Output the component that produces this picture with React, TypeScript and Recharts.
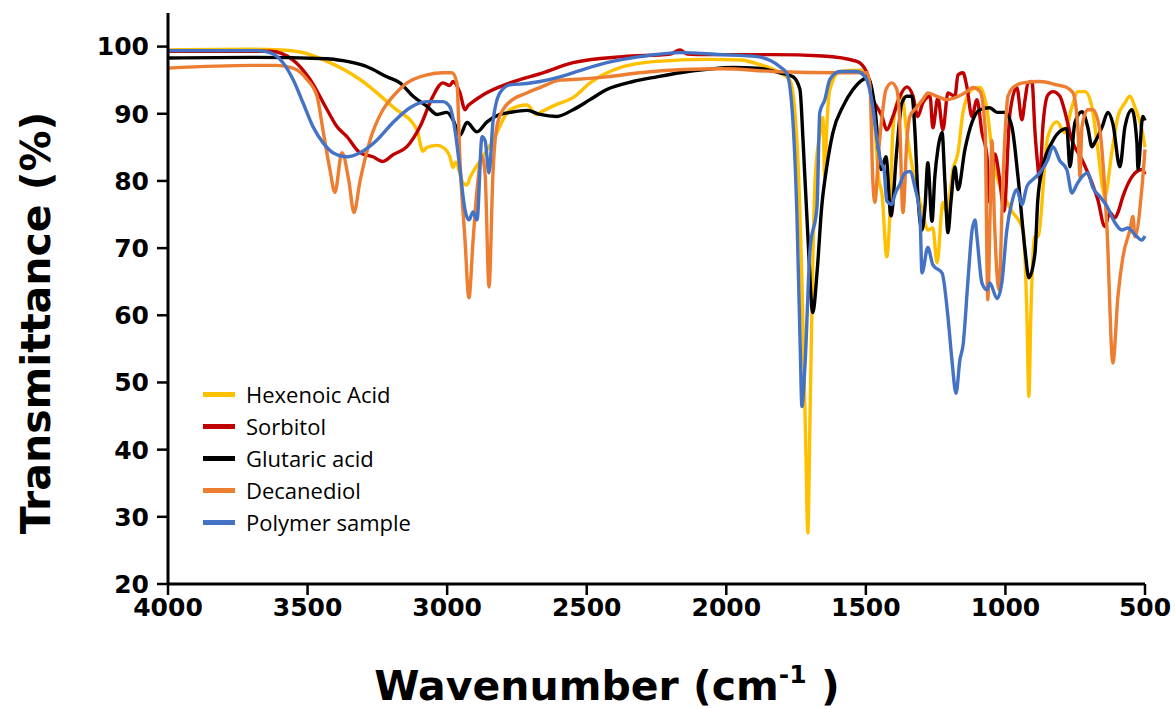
import { Legend, Line, LineChart, XAxis, YAxis } from "recharts";

// wavenumber (cm-1) / transmittance (%)
const hexWn = [
  4000, 3700, 3600, 3527, 3430, 3312, 3194, 3108, 3087, 3072,
  3036, 3015, 2990, 2979, 2970, 2943, 2929, 2918, 2882, 2836,
  2775, 2714, 2680, 2667, 2607, 2549, 2488, 2370, 2248, 2069,
  1951, 1879, 1808, 1772, 1747, 1729, 1715, 1708, 1700, 1690,
  1682, 1665, 1654, 1647, 1640, 1629, 1593, 1521, 1493, 1475,
  1453, 1442, 1425, 1414, 1403, 1389, 1371, 1353, 1317, 1299,
  1278, 1260, 1245, 1224, 1210, 1188, 1170, 1152, 1120, 1091,
  1066, 1045, 984, 937, 923, 916, 909, 895, 884, 848,
  816, 787, 762, 740, 715, 690, 669, 644, 619, 597,
  572, 554, 536, 511, 500,
];
const hexT = [
  99.5, 99.6, 99.5, 99.2, 97.8, 95.1, 91, 87.6, 84.4, 85,
  85.3, 85, 83.6, 82, 82.8, 79.7, 79.4, 80.5, 83, 86,
  90.6, 91.3, 89.9, 90.2, 91.4, 92.4, 94.6, 97, 97.8, 98.1,
  98, 97.3, 96.1, 95, 86, 65, 40, 27.6, 45, 68,
  80, 87, 89.4, 80.6, 88, 93.6, 96.3, 96.5, 95.5, 92,
  80, 78, 68.7, 75, 87.6, 91.6, 92.6, 87, 78.7, 75.7,
  72.7, 73, 67.8, 76.8, 75.3, 81.7, 84.2, 90.2, 93.6, 93.9,
  90.6, 83.6, 76, 72.7, 60, 47.9, 60, 71.7, 71.7, 86.6,
  88.8, 87.2, 91, 93.3, 93.3, 91, 84.7, 77.7, 84.2, 89.6,
  91.6, 92.6, 91, 87.6, 85,
];

const sorbWn = [
  4000, 3635, 3552, 3491, 3430, 3395, 3359, 3312, 3266, 3230,
  3194, 3144, 3097, 3051, 3015, 2990, 2979, 2954, 2936, 2925,
  2907, 2872, 2775, 2657, 2549, 2370, 2200, 2166, 2140, 2069,
  1833, 1654, 1532, 1496, 1475, 1460, 1442, 1425, 1403, 1378,
  1353, 1331, 1314, 1296, 1270, 1260, 1242, 1224, 1206, 1181,
  1170, 1152, 1138, 1120, 1102, 1084, 1066, 1056, 1038, 1020,
  1005, 984, 959, 941, 930, 919, 905, 894, 887, 877,
  866, 848, 830, 805, 787, 762, 726, 690, 669, 644,
  626, 608, 597, 579, 547, 511, 500,
];
const sorbT = [
  99.3, 99.3, 98, 95.1, 90.6, 88.1, 86.6, 84.2, 83.6, 82.9,
  83.9, 85.1, 88.1, 92.6, 94.6, 94.2, 94.8, 93.1, 90.6, 91.2,
  91.8, 92.8, 94.6, 96.1, 97.6, 98.5, 98.9, 99.5, 98.9, 98.8,
  98.8, 98.6, 97.8, 96.1, 92.1, 91, 89.6, 87.6, 89.6, 92.6,
  94, 92.6, 89.6, 91.6, 92.6, 87.9, 92.4, 87.6, 93.1, 92.6,
  95.8, 96.1, 94, 89.6, 92.1, 87.2, 83.6, 76.8, 84, 80,
  75.5, 90, 93.9, 89.1, 92, 94.6, 94.8, 87.2, 83.6, 80.2,
  88, 92.8, 93.3, 92.6, 90.3, 86.1, 83.2, 79.7, 77.2, 73.2,
  75.3, 74.5, 75.3, 77.7, 80.6, 81.7, 81,
];

const glutWn = [
  4000, 3700, 3430, 3373, 3337, 3287, 3216, 3169, 3122, 3072,
  3036, 3001, 2979, 2954, 2929, 2893, 2857, 2811, 2775, 2714,
  2667, 2607, 2549, 2488, 2428, 2334, 2248, 2166, 2069, 1976,
  1890, 1808, 1761, 1736, 1725, 1708, 1690, 1675, 1658, 1640,
  1618, 1582, 1546, 1510, 1493, 1468, 1445, 1428, 1410, 1389,
  1371, 1353, 1335, 1324, 1314, 1299, 1288, 1278, 1263, 1253,
  1242, 1227, 1217, 1206, 1195, 1181, 1170, 1145, 1120, 1091,
  1056, 1030, 1002, 977, 955, 930, 916, 894, 884, 866,
  834, 798, 780, 769, 751, 726, 705, 690, 679, 654,
  633, 615, 590, 572, 547, 529, 525, 508, 500,
];
const glutT = [
  98.3, 98.4, 98.2, 97.9, 97.6, 97, 95.5, 94.6, 92.6, 91.1,
  89.9, 90.2, 89.1, 86.8, 88.7, 87.3, 88.8, 89.9, 90.2, 90.5,
  89.9, 89.6, 90.6, 92.1, 93.6, 94.8, 95.5, 96.1, 96.6, 96.9,
  96.8, 96.1, 95.5, 93.6, 86, 72, 60.4, 66.3, 76.2, 82.1,
  87.2, 91.1, 93.6, 95.1, 95.4, 91, 81.7, 83.6, 74.8, 84.7,
  91.6, 92.6, 92.6, 87.2, 78.2, 72.7, 76.2, 82.7, 74, 80.6,
  84.7, 87.2, 80, 72.3, 77, 82.1, 78.7, 84.7, 88.7, 90.6,
  90.9, 90.2, 90.2, 88.1, 80.6, 69.8, 65.6, 69.3, 77.2, 82.1,
  85.7, 87.6, 87.8, 82.1, 88.7, 90.3, 88, 85.1, 85.8, 88,
  90.2, 88.5, 82.1, 88, 90.6, 85.7, 81.7, 89.6, 89,
];

const decWn = [
  4000, 3700, 3610, 3552, 3502, 3466, 3445, 3420, 3402, 3377,
  3352, 3334, 3312, 3276, 3230, 3194, 3144, 3072, 3015, 2983,
  2965, 2954, 2936, 2922, 2907, 2893, 2875, 2864, 2850, 2836,
  2822, 2800, 2775, 2714, 2667, 2596, 2549, 2428, 2309, 2155,
  2012, 1833, 1593, 1496, 1485, 1475, 1468, 1453, 1442, 1428,
  1407, 1389, 1380, 1367, 1353, 1342, 1317, 1296, 1278, 1245,
  1210, 1174, 1138, 1117, 1091, 1073, 1063, 1055, 1048, 1040,
  1023, 1009, 991, 973, 937, 877, 816, 780, 758, 740,
  733, 726, 705, 687, 662, 636, 615, 597, 579, 554,
  543, 536, 511, 500,
];
const decT = [
  96.8, 97.2, 97.2, 96.8, 95.1, 92.6, 87.6, 81.7, 78.3, 84.2,
  80, 75.3, 80, 86.1, 90.6, 92.6, 94.6, 95.8, 96.1, 96.1,
  94.6, 83, 71.2, 62.6, 71.2, 78.7, 83.6, 81, 64.2, 81,
  88.1, 90.6, 91.8, 93.1, 93.9, 95, 95.1, 95.5, 96.1, 96.6,
  96.7, 96.3, 96.1, 96.1, 94, 80, 76.8, 85, 89.6, 93.6,
  94.6, 93.6, 90, 75.3, 86, 89.6, 91, 92.1, 93.1, 92.6,
  92.1, 92.5, 93.3, 93.9, 93.3, 88, 62.3, 75, 86, 75,
  63.8, 80, 92.6, 93.9, 94.6, 94.8, 94.3, 93.9, 93.1, 87.6,
  80.6, 88, 90.6, 90.6, 87.6, 72.7, 52.9, 62.8, 68.7, 72.7,
  74.7, 71.7, 79, 84.7,
];

const polyWn = [
  4000, 3681, 3635, 3588, 3552, 3516, 3481, 3445, 3409, 3359,
  3312, 3251, 3194, 3133, 3072, 3015, 2990, 2972, 2954, 2936,
  2922, 2907, 2893, 2875, 2864, 2850, 2836, 2811, 2775, 2714,
  2667, 2596, 2549, 2428, 2309, 2166, 2012, 1890, 1808, 1783,
  1761, 1747, 1735, 1729, 1718, 1700, 1675, 1665, 1647, 1629,
  1593, 1532, 1503, 1475, 1460, 1445, 1435, 1425, 1407, 1396,
  1378, 1360, 1342, 1324, 1306, 1299, 1278, 1260, 1227, 1206,
  1192, 1177, 1163, 1152, 1134, 1120, 1109, 1102, 1084, 1066,
  1056, 1030, 1013, 995, 977, 959, 941, 923, 902, 877,
  848, 830, 805, 780, 762, 744, 726, 705, 687, 662,
  636, 608, 583, 561, 536, 511, 500,
];
const polyT = [
  99.4, 99.4, 99.1, 97.6, 95.1, 91.6, 88.1, 85.7, 84.2, 83.6,
  84.2, 86.1, 88.7, 90.9, 91.8, 91.8, 91, 87.6, 81.7, 75.7,
  74.2, 75.4, 74.2, 86.6, 86, 81.2, 88.7, 93.1, 94.3, 94.5,
  94.8, 95.5, 96.1, 97.6, 98.5, 99.1, 98.8, 98.5, 97, 96,
  88.7, 75, 55, 46.4, 52.6, 69.8, 76.2, 90.2, 92.1, 95.1,
  96.3, 96.3, 95.5, 91, 86, 82.7, 81.7, 77, 76.5, 78,
  79.5, 81.2, 81.4, 79, 74.7, 66.3, 70.1, 67.5, 66.3, 59.8,
  53.5, 48.4, 53.4, 55.5, 65.3, 72.5, 74.2, 71.7, 64.8, 63.8,
  64.8, 62.5, 64.8, 72.7, 76.8, 78.7, 76.5, 79.2, 80.2, 81.2,
  83.2, 85.1, 83, 81.7, 78.2, 79.5, 80.6, 81.2, 79, 77.7,
  76.2, 73.8, 72.7, 73, 72, 71.2, 71.8,
];

const xTicks = [4000, 3500, 3000, 2500, 2000, 1500, 1000, 500];
const yTicks = [20, 30, 40, 50, 60, 70, 80, 90, 100];

const zip = (wn: number[], t: number[]) =>
  wn.map((w, i) => ({ wn: w, t: t[i] }));

const series = [
  { name: "Hexenoic Acid", color: "#FFC000", data: zip(hexWn, hexT) },
  { name: "Sorbitol", color: "#C00000", data: zip(sorbWn, sorbT) },
  { name: "Glutaric acid", color: "#000000", data: zip(glutWn, glutT) },
  { name: "Decanediol", color: "#ED7D31", data: zip(decWn, decT) },
  { name: "Polymer sample", color: "#4472C4", data: zip(polyWn, polyT) },
];

const tickStyle = {
  fontFamily: "DejaVu Sans",
  fontWeight: 700,
  fontSize: 25,
  fill: "#000",
};

function LegendBox() {
  return (
    <div style={{ fontFamily: "Open Sans", fontSize: 22, color: "#000" }}>
      {series.map((s) => (
        <div
          key={s.name}
          style={{ display: "flex", alignItems: "center", height: 32 }}
        >
          <span
            style={{
              display: "inline-block",
              width: 32,
              height: 5,
              background: s.color,
              marginRight: 11,
            }}
          />
          <span>{s.name}</span>
        </div>
      ))}
    </div>
  );
}

export default function App() {
  return (
    <div style={{ position: "relative", width: 1175, height: 709, background: "#fff" }}>
      <style>{"body{margin:0}"}</style>
      <LineChart
        width={1175}
        height={709}
        margin={{ top: 13, right: 30, bottom: 0, left: 0 }}
      >
        <XAxis
          dataKey="wn"
          type="number"
          domain={[500, 4000]}
          reversed
          ticks={xTicks}
          interval={0}
          height={125}
          axisLine={{ stroke: "#000", strokeWidth: 3 }}
          tickLine={{ stroke: "#000", strokeWidth: 2.5 }}
          tickSize={11}
          tickMargin={3}
          tick={tickStyle}
        />
        <YAxis
          type="number"
          domain={[20, 105]}
          ticks={yTicks}
          interval={0}
          width={168}
          axisLine={{ stroke: "#000", strokeWidth: 3 }}
          tickLine={{ stroke: "#000", strokeWidth: 2.5 }}
          tickSize={11}
          tickMargin={8}
          tick={tickStyle}
        />
        <Legend
          layout="vertical"
          align="center"
          verticalAlign="middle"
          wrapperStyle={{ left: 203, top: 378, width: 260 }}
          content={LegendBox}
        />
        {series.map((s) => (
          <Line
            key={s.name}
            data={s.data}
            dataKey="t"
            name={s.name}
            type="monotone"
            stroke={s.color}
            strokeWidth={3.4}
            dot={false}
            activeDot={false}
            isAnimationActive={false}
          />
        ))}
      </LineChart>
      {/* axis titles */}
      <svg
        width={1175}
        height={709}
        style={{ position: "absolute", left: 0, top: 0, pointerEvents: "none" }}
      >
        <g fontFamily="DejaVu Sans" fontWeight={700} fill="#000">
          <text x={607} y={700} textAnchor="middle" fontSize={41}>
            Wavenumber (cm
            <tspan dy={-17} fontSize={25}>
              -1
            </tspan>
            <tspan dy={17}> )</tspan>
          </text>
          <text
            x={0}
            y={0}
            transform="translate(50 323) rotate(-90)"
            textAnchor="middle"
            fontSize={41}
          >
            Transmittance (%)
          </text>
        </g>
      </svg>
    </div>
  );
}
